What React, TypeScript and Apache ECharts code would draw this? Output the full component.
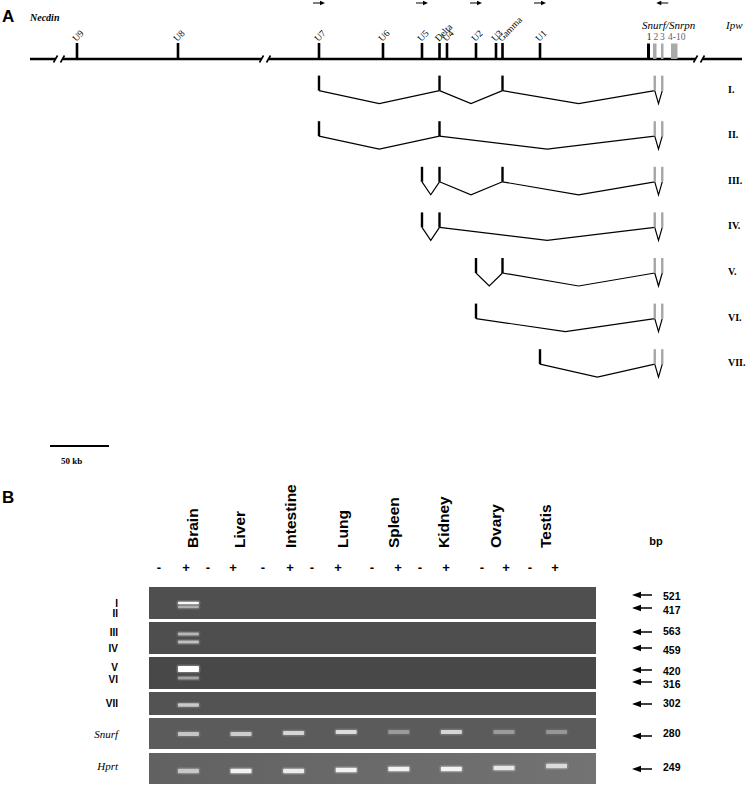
import React, { useEffect, useRef } from 'react';
import * as echarts from 'echarts';

const SERIF = '"Liberation Serif", "Times New Roman", Times, serif';
const SANS = '"Liberation Sans", Arial, Helvetica, sans-serif';

// ---------------- Panel A data (positions along the schematic locus) ----------------
const LOCUS_START = 30;
const LOCUS_END = 742;
const LOCUS_BREAKS = [59, 265, 699];
const LOCUS_GENES = ['Necdin', 'Snurf/Snrpn', 'Ipw'];
const U_EXONS = ['U9', 'U8', 'U7', 'U6', 'U5', 'Delta', 'U4', 'U2', 'U3', 'Gamma', 'U1'];
const U_EXON_POS = [77, 178, 319, 383, 422, 439.5, 447, 476, 496, 502.5, 540];
const SNURF_EXONS = ['1', '2', '3', '4-10'];
const SNURF_EXON_START = [647, 653, 661, 671];
const SNURF_EXON_END = [650, 656.5, 663.5, 677.5];
const TRANSCRIPTS = ['I.', 'II.', 'III.', 'IV.', 'V.', 'VI.', 'VII.'];
const TRANSCRIPT_EXONS = [
  ['U7', 'Delta', 'Gamma', '2', '3'],
  ['U7', 'Delta', '2', '3'],
  ['U5', 'Delta', 'Gamma', '2', '3'],
  ['U5', 'Delta', '2', '3'],
  ['U2', 'Gamma', '2', '3'],
  ['U2', '2', '3'],
  ['U1', '2', '3'],
];
const PRIMER_EXONS = ['U7', 'U5', 'U2', 'U1', '3'];
const PRIMER_DIR = [1, 1, 1, 1, -1];
const SCALE_BAR_KB = 50;

// ---------------- Panel B data (RT-PCR gel) ----------------
const TISSUES = ['Brain', 'Liver', 'Intestine', 'Lung', 'Spleen', 'Kidney', 'Ovary', 'Testis'];
const RT_SIGNS = ['-', '+'];
const PRODUCTS = ['I', 'II', 'III', 'IV', 'V', 'VI', 'VII', 'Snurf', 'Hprt'];
const PRODUCT_BP = [521, 417, 563, 459, 420, 316, 302, 280, 249];
// migration (distance from top of gel strip) per + lane
const MIGRATION_I = [16, 16, 16, 16, 16, 16, 16, 16];
const MIGRATION_II = [20, 20, 20, 20, 20, 20, 20, 20];
const MIGRATION_III = [47, 47, 47, 47, 47, 47, 47, 47];
const MIGRATION_IV = [55, 55, 55, 55, 55, 55, 55, 55];
const MIGRATION_V = [82, 82, 82, 82, 82, 82, 82, 82];
const MIGRATION_VI = [91, 91, 91, 91, 91, 91, 91, 91];
const MIGRATION_VII = [118, 118, 118, 118, 118, 118, 118, 118];
const MIGRATION_SNURF = [147, 147, 146, 145, 145, 145, 145, 145];
const MIGRATION_HPRT = [184, 184, 184, 183, 182, 182, 181, 179];
// band intensity (0 = no band) per + lane
const INTENSITY_I = [0.95, 0, 0, 0, 0, 0, 0, 0];
const INTENSITY_II = [0.5, 0, 0, 0, 0, 0, 0, 0];
const INTENSITY_III = [0.55, 0, 0, 0, 0, 0, 0, 0];
const INTENSITY_IV = [0.6, 0, 0, 0, 0, 0, 0, 0];
const INTENSITY_V = [1, 0, 0, 0, 0, 0, 0, 0];
const INTENSITY_VI = [0.45, 0, 0, 0, 0, 0, 0, 0];
const INTENSITY_VII = [0.65, 0, 0, 0, 0, 0, 0, 0];
const INTENSITY_SNURF = [0.6, 0.65, 0.7, 0.75, 0.35, 0.7, 0.35, 0.32];
const INTENSITY_HPRT = [0.6, 0.9, 0.85, 0.9, 0.9, 0.9, 0.8, 0.7];

const MIGRATIONS = [MIGRATION_I, MIGRATION_II, MIGRATION_III, MIGRATION_IV, MIGRATION_V, MIGRATION_VI, MIGRATION_VII, MIGRATION_SNURF, MIGRATION_HPRT];
const INTENSITIES = [INTENSITY_I, INTENSITY_II, INTENSITY_III, INTENSITY_IV, INTENSITY_V, INTENSITY_VI, INTENSITY_VII, INTENSITY_SNURF, INTENSITY_HPRT];

// ---------------- Layout / style ----------------
const ROW0_PX = 45;
const ROW_STEP_PX = 45.6;
const PANEL_A_H = 430;
const ROW_MIN = -ROW0_PX / ROW_STEP_PX;
const ROW_MAX = ROW_MIN + PANEL_A_H / ROW_STEP_PX;
const GENOME_ROW = (59 - ROW0_PX) / ROW_STEP_PX;
const PRIMER_ROW = (3 - ROW0_PX) / ROW_STEP_PX;
const TRANSCRIPT_LABEL_X = 728;
const GEL = { left: 149, top: 587, width: 447, height: 197 };
const GEL_LANES = 17;
const GEL_PANEL_SPANS = [[0, 32], [35, 67], [70, 102], [105, 128], [131, 162], [166, 197]];
const GEL_PANEL_FILL = ['#4f4f4f', '#4e4e4e', '#484848', '#535353', '#5b5b5b', '#646464'];
const BAND_THICKNESS = [2.5, 2.5, 3, 3, 6, 3, 3.5, 4, 4.5];
const BAND_WIDTH = 21;
const SNURF_LABEL_SHIFT = [0.5, 1, 0, 2.5];
const TISSUE_LABEL_X = [192, 239, 290, 342, 393, 443, 495, 545];
const SIGN_X = [159, 186, 208, 233, 263, 290, 312, 338, 372, 398, 420, 446, 482, 506, 530, 555];
const LEFT_LABEL_Y = [603, 613, 632, 648, 667, 679, 703, 734, 766];
const ARROW_Y = [595, 608, 632, 648, 670, 682, 704, 736, 769];
const BP_LABEL_Y = [596, 610, 631, 650, 671, 684, 703, 733, 767];

function exonPos(name: string): number {
  const u = U_EXONS.indexOf(name);
  if (u >= 0) return U_EXON_POS[u];
  const s = SNURF_EXONS.indexOf(name);
  return (SNURF_EXON_START[s] + SNURF_EXON_END[s]) / 2;
}
const isSnurf = (name: string) => SNURF_EXONS.indexOf(name) >= 0;

function txt(x: number, y: number, text: string, font: string, opts: any = {}) {
  const align = opts.align ?? 'left';
  const vAlign = opts.vAlign ?? 'middle';
  return {
    type: 'text', x, y, rotation: opts.rotation ?? 0, silent: true, z: 10,
    style: { text, font, fill: opts.fill ?? '#000', align, verticalAlign: vAlign, textAlign: align, textVerticalAlign: vAlign },
  };
}

function buildOption(): any {
  const graphics: any[] = [];
  graphics.push(txt(2, 16, 'A', `bold 17px ${SANS}`));
  graphics.push(txt(30, 17, LOCUS_GENES[0], `italic bold 10px ${SERIF}`));
  graphics.push(txt(642, 25, LOCUS_GENES[1], `italic 11px ${SERIF}`));
  graphics.push(txt(726, 25, LOCUS_GENES[2], `italic 11px ${SERIF}`));
  graphics.push({ type: 'line', silent: true, shape: { x1: 50, y1: 446, x2: 109, y2: 446 }, style: { stroke: '#000', lineWidth: 2 } });
  graphics.push(txt(61, 461, `${SCALE_BAR_KB} kb`, `bold 9px ${SERIF}`));
  graphics.push(txt(2, 497, 'B', `bold 17px ${SANS}`));
  TISSUES.forEach((t, i) => graphics.push(txt(TISSUE_LABEL_X[i], 548, t, `bold 15.5px ${SANS}`, { rotation: Math.PI / 2 })));
  SIGN_X.forEach((x, i) => graphics.push(txt(x, 567, RT_SIGNS[i % 2], `bold 13px ${SANS}`, { align: 'center' })));
  graphics.push(txt(656, 541, 'bp', `bold 11px ${SANS}`, { align: 'center' }));
  PRODUCTS.forEach((p, i) => {
    const italic = i >= 7;
    graphics.push(txt(118, LEFT_LABEL_Y[i], p, italic ? `italic 11px ${SERIF}` : `bold 10px ${SANS}`, { align: 'right' }));
    const y = ARROW_Y[i];
    graphics.push({ type: 'line', silent: true, shape: { x1: 638, y1: y, x2: 652, y2: y }, style: { stroke: '#000', lineWidth: 1.5 } });
    graphics.push({ type: 'polygon', silent: true, shape: { points: [[632, y], [641, y - 3.2], [641, y + 3.2]] }, style: { fill: '#000' } });
    graphics.push(txt(663, BP_LABEL_Y[i], String(PRODUCT_BP[i]), `bold 10.5px ${SANS}`));
  });

  const bandData: any[] = [];
  PRODUCTS.forEach((_, p) => {
    TISSUES.forEach((__, t) => {
      const a = INTENSITIES[p][t];
      if (a > 0) bandData.push([2 * t + 1 + 0.5, MIGRATIONS[p][t], a, p]);
    });
  });

  return {
    animation: false,
    backgroundColor: '#ffffff',
    grid: [
      { left: 0, top: 0, width: 746, height: PANEL_A_H },
      { left: GEL.left, top: GEL.top, width: GEL.width, height: GEL.height },
    ],
    xAxis: [
      { type: 'value', gridIndex: 0, min: 0, max: 746, show: false },
      { type: 'value', gridIndex: 1, min: 0, max: GEL_LANES, show: false },
    ],
    yAxis: [
      { type: 'value', gridIndex: 0, min: ROW_MIN, max: ROW_MAX, inverse: true, show: false },
      { type: 'value', gridIndex: 1, min: 0, max: GEL.height, inverse: true, show: false },
    ],
    series: [
      {
        type: 'custom', name: 'locus', xAxisIndex: 0, yAxisIndex: 0, clip: false, silent: true,
        data: [[LOCUS_START, GENOME_ROW]],
        renderItem: (params: any, api: any) => {
          const row = api.value(1);
          const stops = [LOCUS_START];
          LOCUS_BREAKS.forEach((b) => { stops.push(b - 3.5, b + 3.5); });
          stops.push(LOCUS_END);
          const children: any[] = [];
          for (let i = 0; i < stops.length; i += 2) {
            const a = api.coord([stops[i], row]);
            const b = api.coord([stops[i + 1], row]);
            children.push({ type: 'line', shape: { x1: a[0], y1: a[1], x2: b[0], y2: b[1] }, style: { stroke: '#000', lineWidth: 2.5 } });
          }
          LOCUS_BREAKS.forEach((b) => {
            [b - 3.5, b + 3.5].forEach((x) => {
              const c = api.coord([x, row]);
              children.push({ type: 'line', shape: { x1: c[0] - 2, y1: c[1] + 3.5, x2: c[0] + 2, y2: c[1] - 3.5 }, style: { stroke: '#000', lineWidth: 1.6 } });
            });
          });
          return { type: 'group', children };
        },
      },
      {
        type: 'custom', name: 'U exons', xAxisIndex: 0, yAxisIndex: 0, clip: false, silent: true,
        data: U_EXON_POS.map((p) => [p, GENOME_ROW]),
        renderItem: (params: any, api: any) => {
          const c = api.coord([api.value(0), api.value(1)]);
          const name = U_EXONS[params.dataIndex];
          return {
            type: 'group', children: [
              { type: 'rect', shape: { x: c[0] - 1.3, y: c[1] - 16, width: 2.6, height: 16 }, style: { fill: '#000' } },
              {
                type: 'text', x: c[0] - 3, y: c[1] - 19, rotation: 0.8,
                style: { text: name, font: `9.5px ${SERIF}`, fill: '#000', align: 'left', verticalAlign: 'middle', textAlign: 'left', textVerticalAlign: 'middle' },
              },
            ],
          };
        },
      },
      {
        type: 'custom', name: 'Snurf exons', xAxisIndex: 0, yAxisIndex: 0, clip: false, silent: true,
        data: SNURF_EXON_START.map((s, i) => [s, GENOME_ROW, SNURF_EXON_END[i]]),
        renderItem: (params: any, api: any) => {
          const a = api.coord([api.value(0), api.value(1)]);
          const b = api.coord([api.value(2), api.value(1)]);
          const first = params.dataIndex === 0;
          return {
            type: 'group', children: [
              { type: 'rect', shape: { x: a[0], y: a[1] - 15.5, width: b[0] - a[0], height: 15.5 }, style: { fill: first ? '#000' : '#a9a9a9' } },
              {
                type: 'text', x: (a[0] + b[0]) / 2 + SNURF_LABEL_SHIFT[params.dataIndex], y: a[1] - 22,
                style: { text: SNURF_EXONS[params.dataIndex], font: `9.5px ${SERIF}`, fill: first ? '#222' : '#666', align: 'center', verticalAlign: 'middle', textAlign: 'center', textVerticalAlign: 'middle' },
              },
            ],
          };
        },
      },
      {
        type: 'custom', name: 'primers', xAxisIndex: 0, yAxisIndex: 0, clip: false, silent: true,
        data: PRIMER_EXONS.map((n, i) => [exonPos(n), PRIMER_ROW, PRIMER_DIR[i]]),
        renderItem: (params: any, api: any) => {
          const c = api.coord([api.value(0), api.value(1)]);
          const d = api.value(2);
          const tip = c[0] + 6 * d;
          return {
            type: 'group', children: [
              { type: 'line', shape: { x1: c[0] - 6 * d, y1: c[1], x2: c[0] + 2 * d, y2: c[1] }, style: { stroke: '#000', lineWidth: 1 } },
              { type: 'polygon', shape: { points: [[tip, c[1]], [tip - 5 * d, c[1] - 2.3], [tip - 5 * d, c[1] + 2.3]] }, style: { fill: '#000' } },
            ],
          };
        },
      },
      {
        type: 'custom', name: 'transcripts', xAxisIndex: 0, yAxisIndex: 0, clip: false, silent: true,
        data: TRANSCRIPTS.map((_, i) => [LOCUS_START, i + 1]),
        renderItem: (params: any, api: any) => {
          const i = params.dataIndex;
          const row = api.value(1);
          const names = TRANSCRIPT_EXONS[i];
          const pts = names.map((n) => api.coord([exonPos(n), row]));
          const children: any[] = [];
          for (let k = 0; k < pts.length - 1; k++) {
            const a = pts[k];
            const b = pts[k + 1];
            const apex = [(a[0] + b[0]) / 2, a[1] + 13];
            children.push({ type: 'polyline', shape: { points: [a, apex, b] }, style: { stroke: '#000', lineWidth: 1.2, fill: null } });
          }
          pts.forEach((p, k) => {
            children.push({ type: 'rect', shape: { x: p[0] - 1.2, y: p[1] - 15, width: 2.4, height: 15 }, style: { fill: isSnurf(names[k]) ? '#a6a6a6' : '#000' } });
          });
          const lx = api.coord([TRANSCRIPT_LABEL_X, row]);
          children.push({
            type: 'text', x: lx[0], y: lx[1] - 1.5,
            style: { text: TRANSCRIPTS[i], font: `bold 10px ${SERIF}`, fill: '#000', align: 'left', verticalAlign: 'middle', textAlign: 'left', textVerticalAlign: 'middle' },
          });
          return { type: 'group', children };
        },
      },
      {
        type: 'custom', name: 'gel panels', xAxisIndex: 1, yAxisIndex: 1, clip: false, silent: true, z: 1,
        data: GEL_PANEL_SPANS.map(([t, b]) => [0, t, b]),
        renderItem: (params: any, api: any) => {
          const a = api.coord([0, api.value(1)]);
          const b = api.coord([GEL_LANES, api.value(2)]);
          const idx = params.dataIndex;
          const fill = idx === GEL_PANEL_SPANS.length - 1
            ? new echarts.graphic.LinearGradient(0, 0, 1, 0, [{ offset: 0, color: '#616161' }, { offset: 1, color: '#737373' }])
            : GEL_PANEL_FILL[idx];
          return { type: 'rect', shape: { x: a[0], y: a[1], width: b[0] - a[0], height: b[1] - a[1] }, style: { fill } };
        },
      },
      {
        type: 'custom', name: 'bands', xAxisIndex: 1, yAxisIndex: 1, clip: false, silent: true, z: 2,
        data: bandData,
        renderItem: (params: any, api: any) => {
          const c = api.coord([api.value(0), api.value(1)]);
          const a = api.value(2);
          const h = BAND_THICKNESS[api.value(3)];
          const w = BAND_WIDTH;
          return {
            type: 'group', children: [
              { type: 'rect', shape: { x: c[0] - w / 2 - 1.5, y: c[1] - h / 2 - 1.5, width: w + 3, height: h + 3, r: 2 }, style: { fill: `rgba(255,255,255,${0.2 * a})` } },
              { type: 'rect', shape: { x: c[0] - w / 2, y: c[1] - h / 2, width: w, height: h, r: 1 }, style: { fill: `rgba(255,255,255,${a})` } },
            ],
          };
        },
      },
    ],
    graphic: { elements: graphics },
  };
}

export default function App() {
  const ref = useRef<HTMLDivElement>(null);
  useEffect(() => {
    const chart = echarts.init(ref.current as HTMLDivElement, undefined, { renderer: 'svg' });
    chart.setOption(buildOption());
    return () => chart.dispose();
  }, []);
  return <div ref={ref} style={{ position: 'fixed', left: 0, top: 0, width: 746, height: 785, background: '#fff' }} />;
}
